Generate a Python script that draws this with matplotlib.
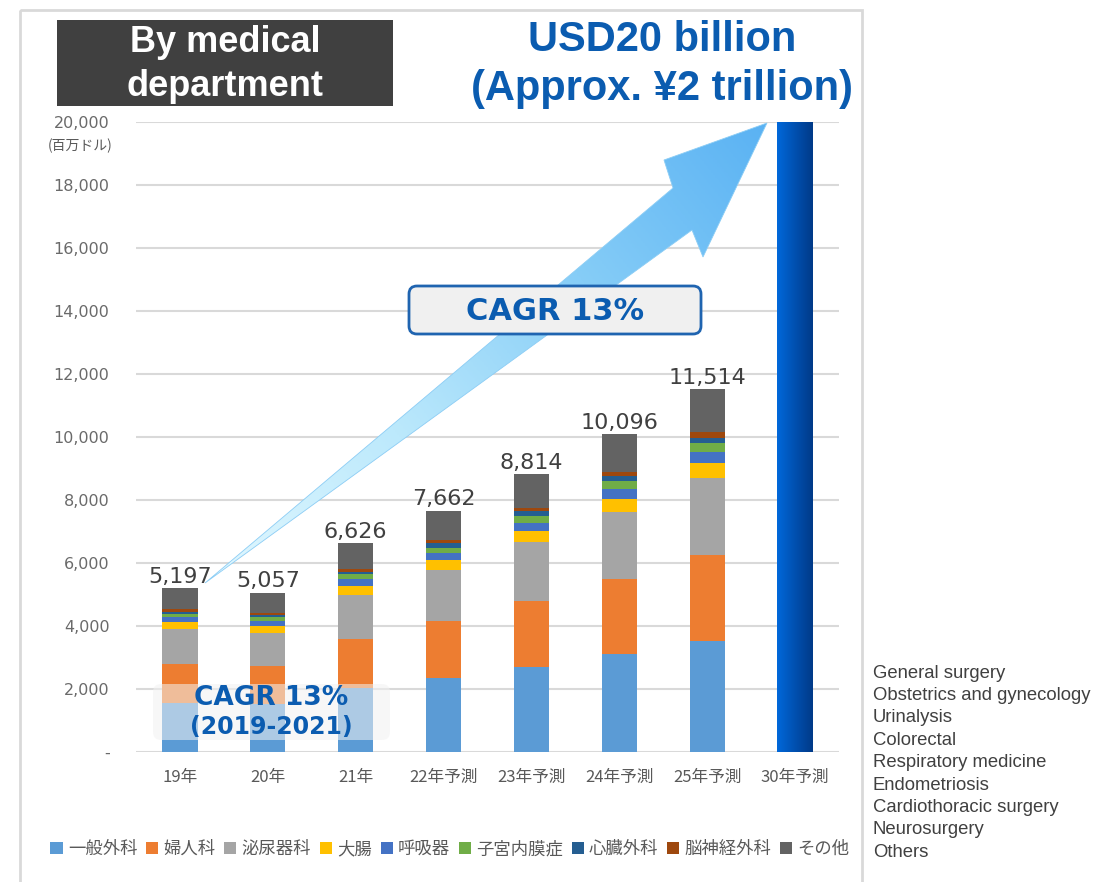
import matplotlib
matplotlib.use("Agg")
import matplotlib.pyplot as plt
import numpy as np
from matplotlib.patches import Patch, Polygon, Rectangle, FancyBboxPatch
from matplotlib.colors import LinearSegmentedColormap

# data (million USD)
categories = ['19年', '20年', '21年', '22年予測', '23年予測', '24年予測', '25年予測', '30年予測']
dept_jp = ['一般外科', '婦人科', '泌尿器科', '大腸', '呼吸器', '子宮内膜症', '心臓外科', '脳神経外科', 'その他']
dept_en = ['General surgery', 'Obstetrics and gynecology', 'Urinalysis', 'Colorectal',
           'Respiratory medicine', 'Endometriosis', 'Cardiothoracic surgery', 'Neurosurgery', 'Others']
colors = ['#5B9BD5', '#ED7D31', '#A5A5A5', '#FFC000', '#4472C4', '#70AD47', '#255E91', '#9E480E', '#636363']

general = [1546, 1524, 2022, 2349, 2708, 3111, 3524]
obgyn = [1257, 1216, 1575, 1810, 2076, 2391, 2730]
urology = [1102, 1047, 1387, 1620, 1873, 2117, 2454]
colorectal = [222, 202, 286, 317, 359, 422, 477]
respiratory = [159, 170, 212, 232, 263, 298, 339]
endometriosis = [95, 127, 159, 159, 213, 264, 296]
cardio = [74, 63, 83, 139, 149, 169, 159]
neuro = [74, 74, 76, 105, 115, 127, 170]
others = [668, 634, 826, 931, 1058, 1197, 1365]
totals = [5197, 5057, 6626, 7662, 8814, 10096, 11514]
target_2030 = 20000

series = [general, obgyn, urology, colorectal, respiratory, endometriosis, cardio, neuro, others]

W, H = 1094, 882
fig = plt.figure(figsize=(W / 100, H / 100), dpi=100)
ax = fig.add_axes([136 / W, 1 - 752 / H, (839 - 136) / W, (752 - 122) / H])

cjk = ['Noto Sans CJK JP', 'DejaVu Sans']
grey_txt = '#595959'

# stacked bars
x = np.arange(len(totals))
bottom = np.zeros(len(totals))
for vals, c in zip(series, colors):
    ax.bar(x, vals, 0.4, bottom=bottom, color=c, zorder=3)
    bottom += np.array(vals)

for xi, t in zip(x, totals):
    ax.annotate(f'{t:,}', (xi, t), xytext=(0, 1), textcoords='offset points',
                ha='center', va='bottom', fontsize=16, color='#404040', zorder=5)

# 2030 projection bar with gradient
xb = len(categories) - 1
bar30 = ax.bar([xb], [target_2030], 0.4, color='#0050B0', zorder=3)[0]
grad = np.linspace(0, 1, 100).reshape(1, -1)
cm30 = LinearSegmentedColormap.from_list('b30', ['#0068DA', '#0050B0', '#003A88'])
im = ax.imshow(grad, extent=(xb - 0.2, xb + 0.2, 0, target_2030), aspect='auto',
               cmap=cm30, zorder=4)
im.set_clip_path(bar30)

ax.set_xlim(-0.5, len(categories) - 0.5)
ax.set_ylim(0, 20000)
ax.set_yticks(np.arange(0, 20001, 2000))
ax.set_yticklabels(['-'] + [f'{v:,}' for v in range(2000, 20001, 2000)])
ax.set_xticks(range(len(categories)))
ax.set_xticklabels(categories, family=cjk, fontsize=12, color=grey_txt)
ax.tick_params(axis='y', length=0, pad=19, labelsize=11.5, labelcolor='#6A6A6A')
ax.tick_params(axis='x', length=0, pad=12)
ax.grid(axis='y', color='#D9D9D9', linewidth=1.5, zorder=0)
for s in ax.spines.values():
    s.set_visible(False)
ax.set_facecolor('none')

# overlay in pixel coordinates for the decorations
ov = fig.add_axes([0, 0, 1, 1], zorder=5)
ov.set_xlim(0, W)
ov.set_ylim(H, 0)
ov.axis('off')
ov.patch.set_visible(False)

ov.add_patch(Rectangle((20, 10), 842, 880, fill=False, edgecolor='#D9D9D9', linewidth=2))
ov.text(80, 146, '(百万ドル)', family=cjk, fontsize=10, color=grey_txt, ha='center', va='center')

# big arrow
pts = np.array([(205, 583), (673, 188), (664, 160), (767, 123), (703, 257), (692, 230)])
arrow = Polygon(pts, closed=True, facecolor='none', edgecolor='#8CCDF5', linewidth=0.6)
ov.add_patch(arrow)
x0, y0 = pts.min(axis=0)
x1, y1 = pts.max(axis=0)
gx, gy = np.meshgrid(np.linspace(x0, x1, 300), np.linspace(y0, y1, 300))
d = np.array([767 - 205, 123 - 583], dtype=float)
tt = ((gx - 205) * d[0] + (gy - 583) * d[1]) / (d @ d)
cm_arrow = LinearSegmentedColormap.from_list('arr', ['#E2F8FF', '#BCE9FC', '#86CDF7', '#5AB2F3'])
ima = ov.imshow(tt, extent=(x0, x1, y1, y0), cmap=cm_arrow, vmin=0, vmax=1,
                aspect='auto', origin='upper')
ima.set_clip_path(arrow)
ov.set_xlim(0, W)
ov.set_ylim(H, 0)

# title box
ov.add_patch(Rectangle((57, 20), 336, 86, facecolor='#404040', edgecolor='none'))
ov.text(225, 42, 'By medical', family='Liberation Sans', fontweight='bold', fontsize=26,
        color='white', ha='center', va='center')
ov.text(225, 86, 'department', family='Liberation Sans', fontweight='bold', fontsize=26,
        color='white', ha='center', va='center')

blue_txt = '#0B5CB0'
ov.text(662, 40, 'USD20 billion', family='Liberation Sans', fontweight='bold', fontsize=30,
        color=blue_txt, ha='center', va='center')
ov.text(662, 89, '(Approx. ¥2 trillion)', family='Liberation Sans', fontweight='bold', fontsize=30,
        color=blue_txt, ha='center', va='center')

# CAGR boxes
ov.add_patch(FancyBboxPatch((409, 286), 292, 48, boxstyle='round,pad=0,rounding_size=8',
                            facecolor='#F0F0F0', edgecolor='#1F64B0', linewidth=2))
ov.text(555, 311, 'CAGR 13%', fontweight='bold', fontsize=22, color=blue_txt,
        ha='center', va='center')

ov.add_patch(FancyBboxPatch((153, 684), 237, 56, boxstyle='round,pad=0,rounding_size=8',
                            facecolor='#F2F2F2', edgecolor='none', alpha=0.55))
ov.text(271, 698, 'CAGR 13%', fontweight='bold', fontsize=19, color=blue_txt,
        ha='center', va='center')
ov.text(271, 727, '(2019-2021)', fontweight='bold', fontsize=17, color=blue_txt,
        ha='center', va='center')

# english labels
for i, name in enumerate(dept_en):
    ov.text(873, 673 + i * 22.4, name, family='Liberation Sans', fontsize=13.3,
            color='#404040', ha='left', va='center')

# japanese legend
handles = [Patch(facecolor=c, edgecolor='none') for c in colors]
leg = fig.legend(handles, dept_jp, loc='center', bbox_to_anchor=(450 / W, 1 - 849 / H), ncol=9,
                 frameon=False, handlelength=0.7, handleheight=0.7, handletextpad=0.3,
                 columnspacing=0.5, prop={'family': cjk, 'size': 12.5})
for t in leg.get_texts():
    t.set_color(grey_txt)

fig.savefig('out.png', dpi=100)
